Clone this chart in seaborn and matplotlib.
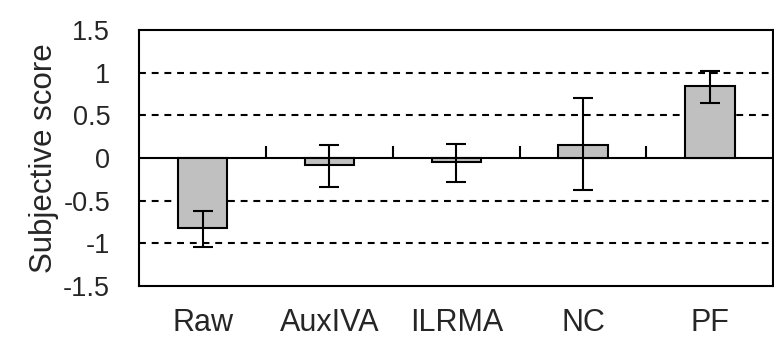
import numpy as np
import pandas as pd
import matplotlib
matplotlib.use("Agg")
import matplotlib.pyplot as plt
import seaborn as sns

# Values
methods = ['Raw', 'AuxIVA', 'ILRMA', 'NC', 'PF']
scores = [-0.82, -0.08, -0.05, 0.15, 0.85]
err_center = [-0.83, -0.095, -0.055, 0.16, 0.83]
err_half = [0.21, 0.245, 0.225, 0.54, 0.19]
y_ticks = [1.5, 1, 0.5, 0, -0.5, -1, -1.5]
grid_levels = [1, 0.5, -0.5, -1]

df = pd.DataFrame({'method': methods, 'score': scores})

sns.set_style('white')
plt.rcParams['font.family'] = ['Liberation Sans', 'DejaVu Sans']

fig = plt.figure(figsize=(7.74, 3.38), dpi=100)
ax = fig.add_axes([0.18, 0.154, 0.819, 0.757])

# dashed reference lines
for g in grid_levels:
    ax.axhline(g, color='black', lw=1.5, ls=(0, (3.3, 2.8)), zorder=0)

sns.barplot(data=df, x='method', y='score', color='#c0c0c0', saturation=1,
            edgecolor='black', linewidth=1.5, width=0.39, errorbar=None, ax=ax, zorder=2)

ax.errorbar(np.arange(len(methods)), err_center, yerr=err_half, fmt='none',
            ecolor='black', elinewidth=1.5, capsize=7, capthick=1.5, zorder=3)

# zero line with category separator ticks
ax.axhline(0, color='black', lw=1.5, zorder=1)
ax.vlines(np.arange(len(methods) - 1) + 0.5, 0, 0.14, color='black', lw=1.5, zorder=1)

ax.set_xlim(-0.5, len(methods) - 0.5)
ax.set_ylim(-1.5, 1.5)
ax.set_yticks(y_ticks)
ax.set_yticklabels([f'{t:g}' for t in y_ticks])
ax.tick_params(axis='both', length=0)
ax.tick_params(axis='y', pad=21, labelsize=19.5)
ax.tick_params(axis='x', pad=16, labelsize=22)
ax.set_xlabel('')
ax.set_ylabel('Subjective score', fontsize=22.5, labelpad=3)

for s in ax.spines.values():
    s.set_visible(True)
    s.set_color('black')
    s.set_linewidth(1.5)

fig.savefig('out.png', dpi=100)
